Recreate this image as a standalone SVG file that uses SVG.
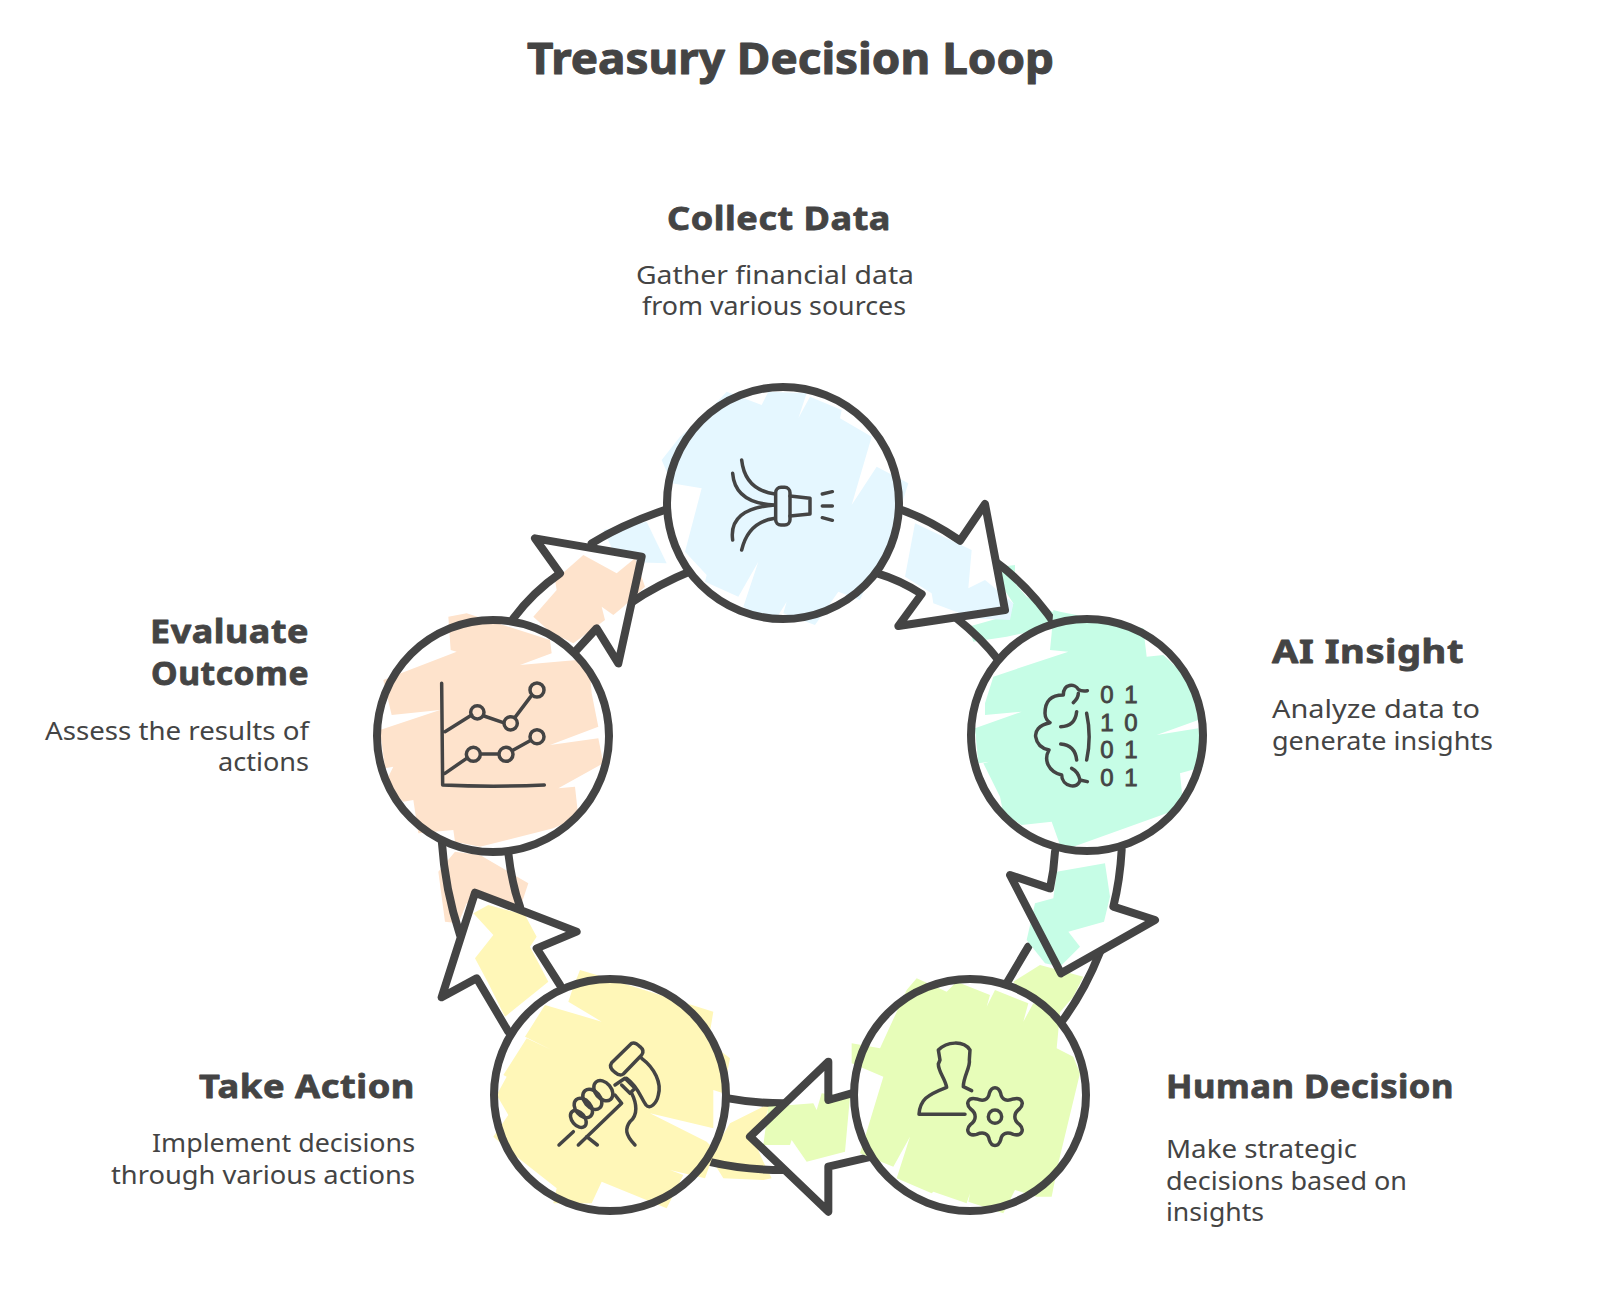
<svg xmlns="http://www.w3.org/2000/svg" width="1600" height="1304" viewBox="0 0 1600 1304">
<style>
text{fill:#444;font-family:"Noto Sans","Open Sans",sans-serif}
.t{font-weight:700;font-size:43px;stroke:#444;stroke-width:1;stroke-linejoin:round}
.h{font-weight:700;font-size:33px;letter-spacing:.5px;stroke:#444;stroke-width:.8;stroke-linejoin:round}
.b{font-size:25px}
.r{text-anchor:end}
.o{fill:none;stroke:#444;stroke-width:24;stroke-linecap:round;stroke-linejoin:round}
.w{fill:#fff}
.i{fill:none;stroke:#444;stroke-width:10.5;stroke-linecap:round;stroke-linejoin:round}
.c{fill:none;stroke:#444;stroke-width:8}
.bg{fill:#fff}
.blue{fill:#e5f7ff}.green{fill:#c6fde6}.lime{fill:#e7fdb9}.yellow{fill:#fff7b8}.peach{fill:#fee3cc}
text.d{font-family:"Liberation Sans",sans-serif;font-size:24px;text-anchor:middle;stroke:#444;stroke-width:.8}
</style>
<rect width="1600" height="1304" fill="#fff"/>
<text id="title" class="t" x="527" y="74" textLength="527" lengthAdjust="spacingAndGlyphs">Treasury Decision Loop</text>

<g id="connectors">
  <g id="arrow-eval-collect" transform="translate(360 500) scale(.33333)">
    <polygon class="blue" points="730,90 860,65 920,190 775,185"/>
    <path class="o" d="M695,130 Q800,65 960,15"/>
    <path class="o" d="M810,310 Q890,255 1000,210"/>
    <path class="w" d="M650,450 L710,385 L775,490 L845,170 L525,115 L600,220 L460,355 Z"/>
    <polygon class="peach" points="520,350 590,270 585,240 670,165 770,220 825,175 855,260 790,320 760,345 725,320 735,360 640,430 570,395"/>
    <path class="o" d="M460,355 Q520,275 600,220 L525,115 L845,170 L775,490 L710,385 L650,450"/>
  </g>
  <g id="arrow-collect-insight" transform="translate(640 370) scale(.33333)">
    <polygon class="green" points="1085,590 1125,585 1125,640 1160,680 1245,730 1240,770 1100,800 1000,815 985,770 1110,735 1120,700 1080,640"/>
    <path class="o" d="M1060,570 Q1170,650 1250,770"/>
    <path class="o" d="M950,745 Q1025,805 1075,870"/>
    <path class="w" d="M785,420 Q870,450 960,512 L1035,402 L1095,720 L775,768 L845,672 Q780,630 712,610 Z"/>
    <polygon class="blue" points="825,460 995,540 985,655 1035,630 1120,700 1110,750 1000,745 880,700 875,670 795,620"/>
    <path class="o" d="M785,420 Q870,450 960,512 L1035,402 L1095,720 L775,768 L845,672 Q780,630 712,610"/>
  </g>
  <g id="arrow-insight-human" transform="translate(950 600) scale(.33333)">
    <polygon class="lime" points="190,1145 270,1095 400,1130 370,1190 310,1260 220,1190"/>
    <path class="o" d="M235,1040 Q205,1090 170,1150"/>
    <path class="o" d="M450,1056 Q405,1170 339,1260"/>
    <path class="w" d="M315,755 L300,865 L180,825 L333,1120 L615,960 L490,920 L515,750 Z"/>
    <polygon class="green" points="320,815 465,790 480,890 462,965 355,995 390,1040 330,1100 285,1090 230,1020 255,910 310,895"/>
    <path class="o" d="M315,755 Q312,810 300,865 L180,825 L333,1120 L615,960 L490,920 Q510,840 515,750"/>
  </g>
  <g id="arrow-human-action" transform="translate(700 960) scale(.33333)">
    <polygon class="yellow" points="210,430 90,490 30,590 70,655 190,660 215,655 190,605 170,560"/>
    <path class="o" d="M85,415 Q165,430 250,430"/>
    <path class="o" d="M25,605 Q130,630 250,630"/>
    <path class="w" d="M455,400 L385,420 L385,305 L150,530 L385,755 L385,620 L515,590 Z"/>
    <polygon class="lime" points="205,440 340,430 350,450 365,400 450,410 440,520 435,575 320,605 275,540 270,555 190,555"/>
    <path class="o" d="M455,400 L385,420 L385,305 L150,530 L385,755 L385,620 L515,590"/>
  </g>
  <g id="arrow-action-eval" transform="translate(360 820) scale(.33333)">
    <polygon class="peach" points="285,95 360,105 505,190 480,265 320,250 295,310 255,305 235,155"/>
    <path class="o" d="M245,60 Q255,210 300,345"/>
    <path class="o" d="M445,100 Q455,190 480,260"/>
    <path class="w" d="M600,495 L530,385 L650,335 L345,218 L245,532 L350,475 L445,635 Z"/>
    <polygon class="yellow" points="340,280 385,255 495,285 530,350 510,380 565,485 435,590 385,490 345,415 400,345"/>
    <path class="o" d="M600,495 L530,385 L650,335 L345,218 L245,532 L350,475 L445,635"/>
  </g>
</g>

<g id="node-collect">
  <circle class="bg" cx="783" cy="503" r="116"/>
  <g transform="translate(640 370) scale(.33333)">
    <polygon class="blue" points="260,65 365,105 385,65 500,70 475,145 510,80 605,120 600,145 695,200 635,405 710,290 805,340 770,450 760,520 700,600 660,690 595,665 525,765 430,730 440,695 400,760 310,710 355,575 295,680 195,635 200,615 135,545 185,355 95,340 65,270 120,200 200,130"/>
    <path class="i" d="M305,270 Q315,360 405,372 M278,310 Q285,400 405,405 M278,510 Q265,415 405,405 M305,540 Q325,455 405,445"/>
    <rect class="i" x="407" y="352" width="43" height="113" rx="16"/>
    <path class="i" d="M450,378 L510,385 L510,432 L450,438 M547,372 L577,365 M547,408 L577,408 M547,443 L577,451"/>
  </g>
  <circle class="c" cx="783" cy="503" r="116"/>
  <text class="h" x="667" y="230" textLength="224" lengthAdjust="spacingAndGlyphs">Collect Data</text>
  <text class="b" x="636" y="284" textLength="278" lengthAdjust="spacingAndGlyphs">Gather financial data</text>
  <text class="b" x="642" y="315" textLength="264" lengthAdjust="spacingAndGlyphs">from various sources</text>
</g>

<g id="node-insight">
  <circle class="bg" cx="1087" cy="735" r="116"/>
  <g transform="translate(950 600) scale(.33333)">
    <polygon class="green" points="310,30 330,35 580,85 590,170 640,165 720,240 745,360 620,405 745,385 760,500 690,520 700,620 650,640 370,740 330,735 305,665 215,675 160,640 150,590 100,490 118,485 85,490 75,385 215,335 105,345 105,310 130,230 355,155 300,150 305,100"/>
    <path class="i" d="M412,272 Q395,275 385,268 C375,250 340,250 340,285 C300,285 285,305 285,340 C285,355 295,365 300,368 C265,375 255,395 257,410 C260,430 275,445 297,450 C280,480 295,515 335,525 C335,560 385,570 390,540 L412,545 M370,308 Q385,295 385,280 M332,380 Q375,380 380,335 M332,432 Q375,435 380,480 M365,505 Q385,515 390,540 M410,340 Q425,410 410,480"/>
  </g>
  <circle class="c" cx="1087" cy="735" r="116"/>
  <text class="d" x="1107" y="703">0</text><text class="d" x="1131" y="703">1</text>
  <text class="d" x="1107" y="731">1</text><text class="d" x="1131" y="731">0</text>
  <text class="d" x="1107" y="758">0</text><text class="d" x="1131" y="758">1</text>
  <text class="d" x="1107" y="786">0</text><text class="d" x="1131" y="786">1</text>
  <text class="h" x="1272" y="663" textLength="192" lengthAdjust="spacingAndGlyphs">AI Insight</text>
  <text class="b" x="1272" y="718" textLength="208" lengthAdjust="spacingAndGlyphs">Analyze data to</text>
  <text class="b" x="1272" y="750" textLength="221" lengthAdjust="spacingAndGlyphs">generate insights</text>
</g>

<g id="node-human">
  <circle class="bg" cx="970" cy="1095" r="116"/>
  <g transform="translate(700 960) scale(.33333)">
    <polygon class="lime" points="650,55 740,95 770,65 870,105 860,140 885,90 985,130 970,185 1000,130 1080,160 1070,265 1120,290 1140,340 1075,610 1055,710 1010,710 945,690 910,760 805,725 810,700 800,730 700,695 695,700 590,655 630,530 580,620 480,580 500,515 550,350 455,310 455,250 540,265 620,90"/>
    <path class="i" d="M795,463 L657,463 C660,420 680,405 740,382 C735,355 715,335 715,312 L720,300 L715,270 C740,245 790,240 810,270 L808,300 C812,320 790,350 790,380 L815,392"/>
    <path class="i" d="M868,400 C875,378 895,378 902,400 C905,420 920,425 940,417 C965,410 975,430 958,447 C940,460 940,480 958,493 C975,510 965,530 940,523 C920,515 905,520 902,540 C895,562 875,562 868,540 C865,520 850,515 830,523 C805,530 795,510 812,493 C830,480 830,460 812,447 C795,430 805,410 830,417 C850,425 865,420 868,400 Z"/>
    <circle class="i" cx="885" cy="470" r="20"/>
  </g>
  <circle class="c" cx="970" cy="1095" r="116"/>
  <text class="h" x="1166" y="1098" textLength="288" lengthAdjust="spacingAndGlyphs">Human Decision</text>
  <text class="b" x="1166" y="1158" textLength="191" lengthAdjust="spacingAndGlyphs">Make strategic</text>
  <text class="b" x="1166" y="1190" textLength="241" lengthAdjust="spacingAndGlyphs">decisions based on</text>
  <text class="b" x="1166" y="1221" textLength="98" lengthAdjust="spacingAndGlyphs">insights</text>
</g>

<g id="node-action">
  <circle class="bg" cx="610" cy="1095" r="116"/>
  <g transform="translate(360 820) scale(.33333)">
    <polygon class="yellow" points="660,450 710,465 1060,575 1045,665 1110,715 1090,820 1060,810 1060,925 870,880 1040,965 1065,990 1035,1075 930,1050 970,1065 920,1165 725,1085 695,1150 580,1150 590,1105 470,1010 400,950 445,885 410,825 440,770 430,765 500,655 575,690 495,650 555,555 725,605 625,545 640,500"/>
    <path class="i" d="M815,670 Q825,665 840,680 Q855,692 845,705 L790,762 Q780,770 765,757 Q745,742 755,728 Z"/>
    <path class="i" d="M845,715 C885,745 905,790 895,825 C890,850 870,870 858,855 C840,830 835,800 800,775"/>
    <path class="i" d="M765,795 L795,775 L825,805 L810,820 L785,795"/>
    <ellipse class="i" cx="730" cy="812" rx="24" ry="34" transform="rotate(-40 730 812)"/>
    <ellipse class="i" cx="697" cy="838" rx="24" ry="34" transform="rotate(-40 697 838)"/>
    <ellipse class="i" cx="670" cy="864" rx="23" ry="33" transform="rotate(-40 670 864)"/>
    <ellipse class="i" cx="655" cy="897" rx="19" ry="29" transform="rotate(-40 655 897)"/>
    <path class="i" d="M597,975 L640,935 M655,975 L785,850 L765,825 M680,950 L712,975 M825,975 C795,945 795,925 810,905 C835,885 830,850 815,820"/>
  </g>
  <circle class="c" cx="610" cy="1095" r="116"/>
  <text class="h r" x="415" y="1098" textLength="216" lengthAdjust="spacingAndGlyphs">Take Action</text>
  <text class="b r" x="415" y="1152" textLength="263" lengthAdjust="spacingAndGlyphs">Implement decisions</text>
  <text class="b r" x="415" y="1184" textLength="304" lengthAdjust="spacingAndGlyphs">through various actions</text>
</g>

<g id="node-evaluate">
  <circle class="bg" cx="493" cy="736" r="116"/>
  <g transform="translate(360 500) scale(.33333)">
    <polygon class="peach" points="265,350 320,340 570,420 575,460 480,495 650,480 690,520 695,580 715,680 570,735 715,715 730,790 595,865 645,860 655,950 580,985 360,1040 285,1025 280,990 175,1000 160,900 130,905 75,850 100,800 75,805 60,690 240,630 95,645 70,540 290,455 272,450"/>
    <path class="i" d="M245,550 L248,855 Q400,862 553,855 M255,695 L335,645 M372,648 L430,668 M465,652 L512,590 M255,820 L320,775 M362,762 L415,762 M460,750 L510,722"/>
    <circle class="i" cx="352" cy="637" r="20"/><circle class="i" cx="452" cy="670" r="20"/><circle class="i" cx="531" cy="570" r="21"/>
    <circle class="i" cx="340" cy="763" r="21"/><circle class="i" cx="438" cy="763" r="21"/><circle class="i" cx="531" cy="710" r="21"/>
  </g>
  <circle class="c" cx="493" cy="736" r="116"/>
  <text class="h r" x="309" y="643" textLength="159" lengthAdjust="spacingAndGlyphs">Evaluate</text>
  <text class="h r" x="309" y="685" textLength="158" lengthAdjust="spacingAndGlyphs">Outcome</text>
  <text class="b r" x="309" y="740" textLength="264" lengthAdjust="spacingAndGlyphs">Assess the results of</text>
  <text class="b r" x="309" y="771" textLength="91" lengthAdjust="spacingAndGlyphs">actions</text>
</g>
</svg>
